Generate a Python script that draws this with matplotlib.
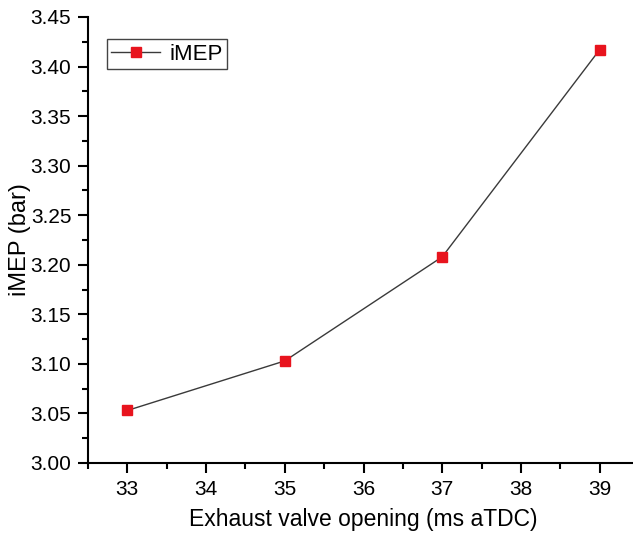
import matplotlib
matplotlib.use("Agg")
import matplotlib.pyplot as plt
from matplotlib.ticker import MultipleLocator

plt.rcParams['font.family'] = ['Liberation Sans', 'DejaVu Sans']

# data
evo = [33, 35, 37, 39]
imep = [3.053, 3.103, 3.208, 3.417]

fig = plt.figure(figsize=(6.33, 5.34), dpi=100)
ax = fig.add_axes([88 / 633, 71 / 534, 551 / 633, 446 / 534])

ax.plot(evo, imep, '-', color='#3a3a3a', lw=1.0, marker='s', ms=7,
        mfc='#e8141e', mec='#e8141e', label='iMEP')

ax.set_xlim(32.5, 39.5)
ax.set_ylim(3.00, 3.45)
ax.xaxis.set_major_locator(MultipleLocator(1))
ax.xaxis.set_minor_locator(MultipleLocator(0.5))
ax.yaxis.set_major_locator(MultipleLocator(0.05))
ax.yaxis.set_minor_locator(MultipleLocator(0.025))
ax.yaxis.set_major_formatter(matplotlib.ticker.FormatStrFormatter('%.2f'))

for s in ['top', 'right']:
    ax.spines[s].set_visible(False)
for s in ['left', 'bottom']:
    ax.spines[s].set_linewidth(1.5)

ax.tick_params(which='major', direction='out', length=7, width=1.5, labelsize=15, pad=5)
ax.tick_params(which='minor', direction='out', length=4, width=1.5)

ax.set_xlabel('Exhaust valve opening (ms aTDC)', fontsize=16.5)
ax.set_ylabel('iMEP (bar)', fontsize=17)
ax.xaxis.set_label_coords(0.499, -0.1)
ax.yaxis.set_label_coords(-0.104, 0.5)

leg = ax.legend(loc='upper left', bbox_to_anchor=(0.014, 0.975), fontsize=16,
                fancybox=False, edgecolor='#444444', framealpha=1,
                handlelength=2.2, borderpad=0.2, handletextpad=0.4)
leg.get_frame().set_linewidth(1.0)

fig.savefig('out.png', dpi=100)
